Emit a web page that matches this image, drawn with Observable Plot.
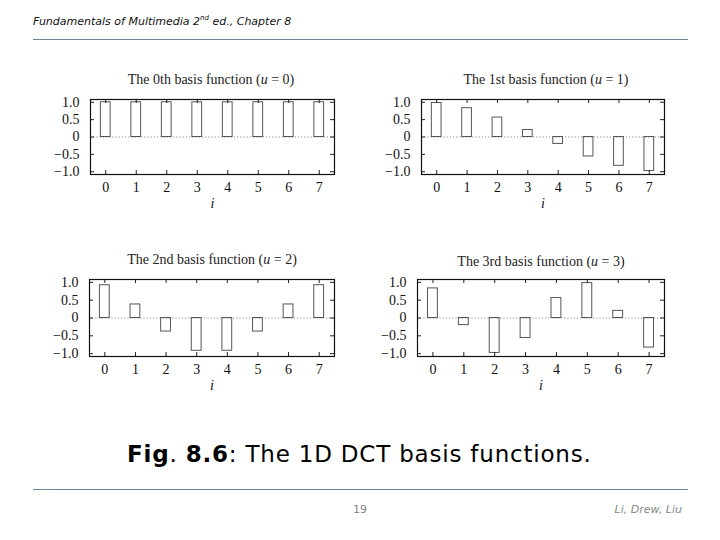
<!DOCTYPE html>
<html>
<head>
<meta charset="utf-8">
<script src="https://cdn.jsdelivr.net/npm/d3@7"></script>
<script src="https://cdn.jsdelivr.net/npm/@observablehq/plot@0.6"></script>
<style>
  html, body { margin: 0; padding: 0; background: #fff; }
  #page { position: relative; width: 720px; height: 540px; overflow: hidden; background: #fff; }
  .abs { position: absolute; }
  .header { left: 33px; top: 14px; font-family: "DejaVu Sans", sans-serif; font-style: italic; font-size: 11px; color: #111; white-space: nowrap; }
  .header sup { font-size: 7px; }
  .hline { left: 33px; width: 655px; height: 0; border-top: 1.5px solid #6e8496; }
  .ptitle { font-family: "Liberation Serif", serif; font-size: 14px; color: #222; white-space: nowrap; transform: translateX(-50%); }
  .caption { left: 127px; top: 441px; font-family: "DejaVu Sans", sans-serif; font-size: 23px; letter-spacing: 0.8px; color: #000; white-space: nowrap; }
  .pnum { left: 360px; top: 503px; transform: translateX(-50%); font-family: "DejaVu Sans", sans-serif; font-size: 11px; color: #888; }
  .authors { right: 38px; top: 503px; font-family: "DejaVu Sans", sans-serif; font-style: italic; font-size: 11px; color: #888; white-space: nowrap; }
</style>
</head>
<body>
<div id="page">
  <div class="abs header">Fundamentals of Multimedia 2<sup>nd</sup> ed., Chapter 8</div>
  <div class="abs hline" style="top:39px"></div>
  <div class="abs caption"><b>Fig</b>. <b>8.6</b>: The 1D DCT basis functions.</div>
  <div class="abs hline" style="top:489px"></div>
  <div class="abs pnum">19</div>
  <div class="abs authors">Li, Drew, Liu</div>
</div>
<script>
// ---- data ----
const indices = [0, 1, 2, 3, 4, 5, 6, 7];
const basis0 = [1.0, 1.0, 1.0, 1.0, 1.0, 1.0, 1.0, 1.0];
const basis1 = [0.98, 0.83, 0.56, 0.20, -0.20, -0.56, -0.83, -0.98];
const basis2 = [0.92, 0.38, -0.38, -0.92, -0.92, -0.38, 0.38, 0.92];
const basis3 = [0.83, -0.20, -0.98, -0.56, 0.56, 0.98, 0.20, -0.83];
const yTickValues = [-1, -0.5, 0, 0.5, 1];
const yTickLabels = ["\u22121.0", "\u22120.5", "0", "0.5", "1.0"];
const ordinals = ["0th", "1st", "2nd", "3rd"];
const uValues = [0, 1, 2, 3];
const xAxisLabel = "i";

// ---- layout ----
const panels = [
  {values: basis0, left: 30, top: 95, fw: 244, fh: 75, tx: 211, ty: 72},
  {values: basis1, left: 361, top: 95, fw: 243, fh: 75, tx: 546, ty: 72},
  {values: basis2, left: 29, top: 275, fw: 245, fh: 77, tx: 212, ty: 252},
  {values: basis3, left: 357, top: 275, fw: 247, fh: 77, tx: 541, ty: 254}
];
const M = {left: 60, right: 8, top: 4, bottom: 46};
const halfW = 0.16;
const FS = 14;

const page = document.getElementById("page");
panels.forEach((p, k) => {
  const data = indices.map((i, j) => ({i, v: p.values[j]}));
  const chart = Plot.plot({
    width: M.left + p.fw + M.right,
    height: M.top + p.fh + M.bottom,
    marginLeft: M.left, marginRight: M.right, marginTop: M.top, marginBottom: M.bottom,
    style: {fontFamily: "'Liberation Serif', serif", fontSize: FS + "px", color: "#111", background: "transparent"},
    x: {type: "linear", domain: [-0.5, 7.5]},
    y: {type: "linear", domain: [-1.08, 1.08]},
    marks: [
      Plot.ruleY([0], {stroke: "#888", strokeDasharray: "1.2,2"}),
      Plot.rect(data, {x1: d => d.i - halfW, x2: d => d.i + halfW, y1: 0, y2: "v", fill: "none", stroke: "#555", strokeWidth: 1}),
      Plot.tickY(yTickValues, {insetRight: p.fw - 4, stroke: "#222"}),
      Plot.tickY(yTickValues, {insetLeft: p.fw - 4, stroke: "#222"}),
      Plot.tickX(indices, {insetBottom: p.fh - 4, stroke: "#222"}),
      Plot.tickX(indices, {insetTop: p.fh - 4, stroke: "#222"}),
      Plot.frame({stroke: "#111", strokeWidth: 1.2}),
      Plot.axisY({ticks: yTickValues, tickSize: 0, tickPadding: 11, fontSize: FS, tickFormat: d => yTickLabels[yTickValues.indexOf(d)], label: null}),
      Plot.axisX({ticks: indices, tickSize: 0, tickPadding: 8, fontSize: FS, tickFormat: d => String(d), label: null}),
      Plot.text([xAxisLabel], {frameAnchor: "bottom", dy: 33, text: d => d, fontStyle: "italic", fontSize: FS})
    ]
  });
  chart.style.position = "absolute";
  chart.style.left = p.left + "px";
  chart.style.top = p.top + "px";
  page.appendChild(chart);

  const t = document.createElement("div");
  t.className = "abs ptitle";
  t.style.left = p.tx + "px";
  t.style.top = p.ty + "px";
  t.innerHTML = `The ${ordinals[k]} basis function (<i>u</i> = ${uValues[k]})`;
  page.appendChild(t);
});
</script>
</body>
</html>
